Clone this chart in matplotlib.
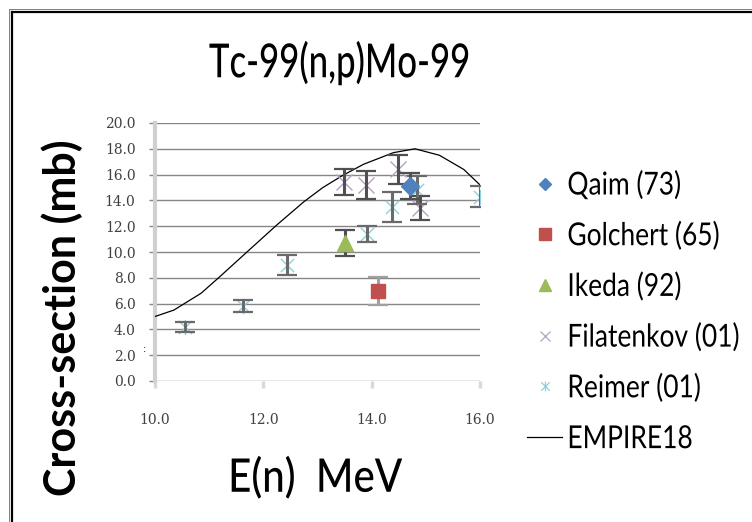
import matplotlib
matplotlib.use("Agg")
import matplotlib.pyplot as plt
from matplotlib.lines import Line2D
from matplotlib.path import Path
from matplotlib.patheffects import AbstractPathEffect
from matplotlib.transforms import Affine2D
from matplotlib.ticker import FormatStrFormatter, MultipleLocator

# ---------------- data ----------------
qaim_x = [14.70]
qaim_y = [15.1]
qaim_err = [1.0]

golchert_x = [14.12]
golchert_y = [7.0]
golchert_err = [1.1]

ikeda_x = [13.50]
ikeda_y = [10.7]
ikeda_err = [1.0]

filatenkov_x = [13.48, 13.90, 14.49, 14.90]
filatenkov_y = [15.4, 15.2, 16.4, 13.4]
filatenkov_err = [1.0, 1.1, 1.1, 0.95]

reimer_x = [10.55, 11.63, 12.43, 13.91, 14.37, 14.83, 16.00]
reimer_y = [4.2, 5.8, 9.0, 11.4, 13.5, 14.8, 14.3]
reimer_err = [0.4, 0.45, 0.8, 0.6, 1.15, 1.1, 0.85]

empire_x = [10.0, 10.35, 10.85, 11.2, 11.75, 12.25, 12.75, 13.1, 13.45,
            13.85, 14.4, 14.8, 15.25, 15.7, 16.0]
empire_y = [5.0, 5.5, 6.8, 8.1, 10.2, 12.1, 13.9, 15.0, 15.9,
            16.8, 17.7, 18.0, 17.5, 16.4, 15.2]

series_labels = ["Qaim (73)", "Golchert (65)", "Ikeda (92)",
                 "Filatenkov (01)", "Reimer (01)", "EMPIRE18"]
title_text = "Tc-99(n,p)Mo-99"
xlabel_text = "E(n)  MeV"
ylabel_text = "Cross-section (mb)"

# ---------------- styles ----------------
C_QAIM = "#4F81BD"
C_GOL = "#C0504D"
C_IKE = "#9BBB59"
C_FIL = "#B3A2C7"
C_REI = "#8FD0E0"


class VStretch(AbstractPathEffect):
    """Stretch rendered text vertically about its own centre."""

    def __init__(self, sy):
        super().__init__()
        self.sy = sy

    def draw_path(self, renderer, gc, tpath, affine, rgbFace=None):
        ext = tpath.get_extents(affine)
        cy = 0.5 * (ext.y0 + ext.y1)
        aff = affine + Affine2D().translate(0, -cy).scale(1, self.sy).translate(0, cy)
        renderer.draw_path(gc, tpath, aff, rgbFace)


star = Path([(-1, -1), (1, 1), (-1, 1), (1, -1), (0, -1.15), (0, 1.15)],
            [Path.MOVETO, Path.LINETO, Path.MOVETO, Path.LINETO,
             Path.MOVETO, Path.LINETO])

W, H = 752, 522
fig = plt.figure(figsize=(W / 100, H / 100), dpi=100)
fig.patch.set_facecolor("white")


def fx(px):
    return px / W


def fy(py):
    return 1 - py / H


ax = fig.add_axes([fx(155), fy(381), fx(480) - fx(155), fy(123) - fy(381)])
ax.set_xlim(10, 16)
ax.set_ylim(0, 20)
ax.yaxis.set_major_locator(MultipleLocator(2))
ax.xaxis.set_major_locator(MultipleLocator(2))
ax.yaxis.set_major_formatter(FormatStrFormatter("%.1f"))
ax.xaxis.set_major_formatter(FormatStrFormatter("%.1f"))
ax.grid(axis="y", color="#868686", linewidth=1.0)
ax.set_axisbelow(True)
for s in ["top", "right", "bottom"]:
    ax.spines[s].set_visible(False)
ax.spines["left"].set_color("#D0D0D0")
ax.spines["left"].set_linewidth(3)
ax.tick_params(axis="y", length=4, width=1, color="#868686", pad=10,
               labelsize=10, labelcolor="#404040")
ax.tick_params(axis="x", length=5, width=2.5, color="#D9D9D9", pad=18,
               labelsize=10, labelcolor="#404040")
for lab in ax.get_xticklabels() + ax.get_yticklabels():
    lab.set_fontfamily("DejaVu Serif")

# curve
ax.plot(empire_x, empire_y, color="black", linewidth=0.9, zorder=3)


def ebar(x, y, e, ecol="#505050"):
    _, caps, bars = ax.errorbar(x, y, yerr=e, fmt="none", ecolor=ecol,
                                elinewidth=2.2, capsize=7, capthick=1.6,
                                zorder=5)
    for c in caps:
        c.set_color("black")


ax.plot(filatenkov_x, filatenkov_y, linestyle="none", marker="x",
        markersize=11, markeredgewidth=1.0, color=C_FIL, zorder=4)
ax.plot(reimer_x, reimer_y, linestyle="none", marker=star, markersize=11,
        markerfacecolor="none", markeredgecolor=C_REI, markeredgewidth=1.0,
        zorder=4)
ebar(filatenkov_x, filatenkov_y, filatenkov_err)
ebar(reimer_x, reimer_y, reimer_err, "#6a6a6a")
ebar(qaim_x, qaim_y, qaim_err)
ebar(golchert_x, golchert_y, golchert_err, "#A0A0A0")
ebar(ikeda_x, ikeda_y, ikeda_err)
ax.plot(qaim_x, qaim_y, linestyle="none", marker="D", markersize=9,
        color=C_QAIM, zorder=6)
ax.plot(golchert_x, golchert_y, linestyle="none", marker="s", markersize=10,
        color=C_GOL, zorder=6)
ax.plot(ikeda_x, ikeda_y, linestyle="none", marker="^", markersize=11,
        color=C_IKE, zorder=6)

# legend
handles = [
    Line2D([], [], linestyle="none", marker="D", markersize=6, color=C_QAIM),
    Line2D([], [], linestyle="none", marker="s", markersize=8, color=C_GOL),
    Line2D([], [], linestyle="none", marker="^", markersize=8, color=C_IKE),
    Line2D([], [], linestyle="none", marker="x", markersize=7,
           markeredgewidth=0.9, color=C_FIL),
    Line2D([], [], linestyle="none", marker=star, markersize=7,
           markerfacecolor="none", markeredgecolor=C_REI, markeredgewidth=0.9),
    Line2D([], [], color="black", linewidth=0.9),
]
leg = fig.legend(handles, series_labels, loc="center left",
                 bbox_to_anchor=(fx(527), fy(312)), frameon=False,
                 prop={"family": "Lato", "size": 19}, borderpad=0,
                 borderaxespad=0, handlelength=1.33, handletextpad=0.2,
                 labelspacing=0.97)
for t in leg.get_texts():
    t.set_path_effects([VStretch(1.2)])

# texts
t_title = fig.text(fx(340), fy(63), title_text, family="Lato", fontsize=25,
                   fontweight="medium", ha="center", va="center",
                   color="black")
t_title.set_path_effects([VStretch(1.35)])
t_x = fig.text(fx(315), fy(478), xlabel_text, family="Lato", fontsize=29,
               fontweight="medium", ha="center", va="center", color="black")
t_x.set_path_effects([VStretch(1.15)])
fig.text(fx(62), fy(318), ylabel_text, family="Lato", fontweight="bold",
         fontsize=31, rotation=90, ha="center", va="center", color="black")
fig.text(fx(145), fy(349), ":", fontsize=7, ha="center", va="center",
         color="black")

# outer frame (top and left)
fig.add_artist(Line2D([fx(12), 1.0], [fy(12), fy(12)], color="black",
                      linewidth=1.6))
fig.add_artist(Line2D([fx(12), fx(12)], [fy(12), 0.0], color="black",
                      linewidth=1.6))
fig.add_artist(Line2D([fx(9), 1.0], [fy(9), fy(9)], color="#808080",
                      linewidth=0.7))
fig.add_artist(Line2D([fx(9), fx(9)], [fy(9), 0.0], color="#808080",
                      linewidth=0.7))

fig.savefig("out.png", dpi=100)
